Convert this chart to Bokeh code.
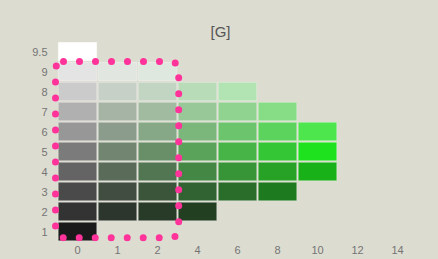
import numpy as np
from bokeh.plotting import figure
from bokeh.models import ColumnDataSource, FixedTicker, Range1d
from bokeh.embed import file_html
from bokeh.resources import INLINE

# ---- data -------------------------------------------------------------
chroma_labels = ["0", "1", "2", "4", "6", "8", "10", "12", "14"]
value_labels = ["1", "2", "3", "4", "5", "6", "7", "8", "9", "9.5"]

# colours of the chips per Munsell value, ordered by chroma (0, 1, 2, 4, ...)
value_1 = ["#1a1a1a"]
value_2 = ["#333333", "#2c362c", "#283a28", "#223f22"]
value_3 = ["#4a4a4a", "#414d41", "#3b553b", "#316231", "#2a6d2a", "#1e7a1e"]
value_4 = ["#646464", "#5a6b5a", "#527552", "#448644", "#379437", "#27a227", "#18b218"]
value_5 = ["#7b7b7b", "#718571", "#688f68", "#5aa35a", "#47b447", "#34c634", "#1ee21e"]
value_6 = ["#979797", "#8c9c8c", "#86a886", "#7bb67b", "#6cc46c", "#5cd35c", "#4de64d"]
value_7 = ["#b0b0b0", "#a6b4a6", "#a0bba0", "#98c898", "#90d290", "#86dd86"]
value_8 = ["#cbcbcb", "#c6d0c6", "#c2d4c2", "#b8dbb8", "#b2e3b2"]
value_9 = ["#e4e4e4", "#e1e6e1", "#dfe8df"]
value_9_5 = ["#ffffff"]

rows = [value_1, value_2, value_3, value_4, value_5,
        value_6, value_7, value_8, value_9, value_9_5]

xs, ys, cs = [], [], []
for vi, row in enumerate(rows):
    for ci, col in enumerate(row):
        xs.append(ci)
        ys.append(vi + 1)
        cs.append(col)
src = ColumnDataSource(dict(x=xs, y=ys, color=cs))

BG = "#dddcd0"

p = figure(width=438, height=259, output_backend="svg", toolbar_location=None,
           x_range=Range1d(-0.7, len(chroma_labels) - 0.5),
           y_range=Range1d(0.5, len(value_labels) + 0.5),
           min_border_left=49, min_border_right=21,
           min_border_top=41, min_border_bottom=18,
           background_fill_color=BG, border_fill_color=BG,
           outline_line_color=None, title="[G]")

p.rect("x", "y", width=0.962, height=0.915, source=src,
       fill_color="color", line_color="#ffffff", line_alpha=0.3, line_width=1)

# dotted rounded outline around the low-chroma chips (chroma 0-2, value 1-9)
x0, x1 = -0.55, 2.53
y0, y1 = 0.69, 9.5
rx, ry = 0.2, 0.4
t = np.linspace(0, np.pi / 2, 12)
px, py = [x0 + rx], [y1]
px += list(x1 - rx + rx * np.sin(t)); py += list(y1 - ry + ry * np.cos(t))
px += list(x1 - rx + rx * np.cos(t)); py += list(y0 + ry - ry * np.sin(t))
px += list(x0 + rx - rx * np.sin(t)); py += list(y0 + ry - ry * np.cos(t))
px += list(x0 + rx - rx * np.cos(t)); py += list(y1 - ry + ry * np.sin(t))
px.append(x0 + rx); py.append(y1)
p.line(px, py, line_color="#ff3399", line_width=7, line_dash="0 16",
       line_cap="round", line_join="round")

# axes
p.xaxis.ticker = FixedTicker(ticks=list(range(len(chroma_labels))))
p.xaxis.major_label_overrides = {i: s for i, s in enumerate(chroma_labels)}
p.yaxis.ticker = FixedTicker(ticks=list(range(1, len(value_labels) + 1)))
p.yaxis.major_label_overrides = {i + 1: s for i, s in enumerate(value_labels)}
for ax in (p.xaxis[0], p.yaxis[0]):
    ax.axis_line_color = None
    ax.major_tick_line_color = None
    ax.minor_tick_line_color = None
    ax.major_tick_out = 0
    ax.major_tick_in = 0
    ax.major_label_text_font = "Liberation Sans"
    ax.major_label_text_font_size = "11px"
    ax.major_label_text_color = "#747474"
p.xaxis.major_label_standoff = 4
p.yaxis.major_label_standoff = 2
p.xgrid.visible = False
p.ygrid.visible = False

p.title.text_font = "Liberation Sans"
p.title.text_font_size = "15px"
p.title.text_font_style = "normal"
p.title.text_color = "#555555"
p.title.align = "left"
p.title.offset = 161
p.title.standoff = 3

html = file_html(p, INLINE)
html = html.replace("<body>", '<body style="margin:0;background:%s">' % BG)
open("out.html", "w").write(html)
